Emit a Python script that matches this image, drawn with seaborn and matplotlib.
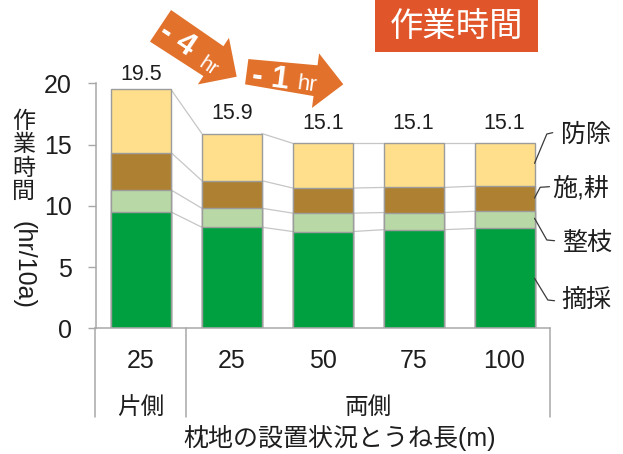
import numpy as np
import pandas as pd
import matplotlib
matplotlib.use("Agg")
import matplotlib.pyplot as plt
from matplotlib.patches import Polygon, Rectangle
import seaborn as sns

# 枕地の設置状況とうね長ごとの作業時間 (hr/10a)
sides = ["片側", "両側", "両側", "両側", "両側"]
row_lengths = ["25", "25", "50", "75", "100"]
tasks = ["摘採", "整枝", "施,耕", "防除"]
plucking = [9.5, 8.25, 7.9, 8.05, 8.15]
pruning = [1.8, 1.55, 1.5, 1.4, 1.4]
fert_tillage = [3.05, 2.25, 2.05, 2.05, 2.05]
pest_control = [5.15, 3.85, 3.65, 3.6, 3.5]
task_colors = ["#00A041", "#B8D8A6", "#AD8131", "#FFDF8B"]
y_ticks = [0, 5, 10, 15, 20]
arrow_texts = [("- 4", "hr"), ("- 1", "hr")]
title = "作業時間"
y_label = "作業時間"
y_unit = "(hr/10a)"
x_label = "枕地の設置状況とうね長(m)"

W, H = 623, 454
TEXT = "#1E1E1E"
GRID_GRAY = "#A8A8A8"

sns.set_theme(style="white")
plt.rcParams["font.family"] = ["Liberation Sans", "Noto Sans CJK JP", "DejaVu Sans"]

keys = [f"{s}{l}" for s, l in zip(sides, row_lengths)]
layers = np.array([plucking, pruning, fert_tillage, pest_control])
stack = np.cumsum(layers, axis=0)
totals = stack[-1]
df = pd.DataFrame({"key": keys})
for k in range(len(tasks)):
    df[f"c{k}"] = stack[k]

fig = plt.figure(figsize=(W / 100, H / 100), dpi=100)
fig.patch.set_facecolor("white")

ax_left, ax_right, ax_top, ax_bottom = 95.5, 550, 83.3, 328.3
ax = fig.add_axes([ax_left / W, 1 - ax_bottom / H,
                   (ax_right - ax_left) / W, (ax_bottom - ax_top) / H])

bar_w = 0.66
# stacked bars: draw the cumulative heights from the top layer down
for k in reversed(range(len(tasks))):
    sns.barplot(data=df, x="key", y=f"c{k}", color=task_colors[k], saturation=1,
                width=bar_w, edgecolor="#9C9C9C", linewidth=1.0,
                errorbar=None, ax=ax, zorder=2)

# connector lines between neighbouring bars
hw = bar_w / 2
for k in range(len(tasks)):
    for i in range(len(keys) - 1):
        ax.plot([i + hw, i + 1 - hw], [stack[k, i], stack[k, i + 1]],
                color="#C6C6C6", lw=0.9, zorder=1)

# totals above bars
for i, t in enumerate(totals):
    ax.text(i, min(t + 1.65, 20.7), f"{t:.1f}", ha="center", va="center",
            fontsize=15.5, color=TEXT, clip_on=False)

ax.set_xlim(-0.5, len(keys) - 0.5)
ax.set_ylim(0, 20)
ax.set_yticks(y_ticks)
ax.set_yticklabels([str(v) for v in y_ticks])
ax.set_xticks(range(len(keys)))
ax.set_xticklabels(row_lengths)
ax.set_xlabel("")
ax.set_ylabel("")
ax.tick_params(axis="y", direction="out", length=6, width=1, color=GRID_GRAY,
               labelsize=18, labelcolor=TEXT, pad=11, left=True)
ax.tick_params(axis="x", length=0, labelsize=18, labelcolor=TEXT, pad=15)
for s in ["top", "right"]:
    ax.spines[s].set_visible(False)
for s in ["left", "bottom"]:
    ax.spines[s].set_color(GRID_GRAY)
    ax.spines[s].set_linewidth(1.1)

# group separators below the axis
xt = ax.get_xaxis_transform()
y_low = (ax_bottom - 417) / (ax_bottom - ax_top)
for xv in [-0.5, 0.5, len(keys) - 0.5]:
    ax.plot([xv, xv], [0, y_low], transform=xt, color=GRID_GRAY, lw=1.1,
            clip_on=False)

def ax_frac(py):
    return (ax_bottom - py) / (ax_bottom - ax_top)

ax.text(0, ax_frac(408), sides[0], transform=xt, ha="center", va="center",
        fontsize=17, color=TEXT)
ax.text((1 + len(keys) - 1) / 2, ax_frac(408), sides[1], transform=xt,
        ha="center", va="center", fontsize=17, color=TEXT)
ax.text(2.187, ax_frac(438), x_label, transform=xt, ha="center", va="center",
        fontsize=18, color=TEXT)

# task labels with leader lines
leader = [
    ([4 + hw, 4.465, 4.53], [13.47, 15.86, 15.97], 4.623, 15.78),
    ([4 + hw, 4.392, 4.494], [10.64, 11.51, 11.56], 4.527, 11.43),
    ([4 + hw, 4.465, 4.55], [8.98, 7.21, 7.15], 4.637, 6.94),
    ([4 + hw, 4.476, 4.55], [4.08, 2.31, 2.25], 4.623, 2.31),
]
for name, (lx, ly, tx, ty) in zip(reversed(tasks), leader):
    ax.plot(lx, ly, color="#3A3A3A", lw=0.9, clip_on=False, zorder=3)
    ax.text(tx, ty, name, ha="left", va="center", fontsize=18, color=TEXT,
            clip_on=False)

def fxy(px, py):
    return px / W, 1 - py / H

# vertical y-axis label
for j, ch in enumerate(y_label):
    fig.text(*fxy(23.5, 121 + j * 23.6), ch, ha="center", va="center",
             fontsize=16.5, color=TEXT)
fig.text(*fxy(23.5, 265), y_unit, ha="center", va="center", rotation=270,
         fontsize=18, color=TEXT)

# title box
fig.add_artist(Rectangle(fxy(375, 52), 163 / W, 52 / H, transform=fig.transFigure,
                         facecolor="#E0552A", edgecolor="none"))
fig.text(*fxy(456.5, 27), title, ha="center", va="center", fontsize=24,
         color="white")

def arrow_poly(tail, tip, wt, wn, wh, hl):
    T = np.array(tail, float)
    P = np.array(tip, float)
    L = np.linalg.norm(P - T)
    u = (P - T) / L
    n = np.array([-u[1], u[0]])
    B = T + u * (L - hl)
    pts = [T + n * wt / 2, B + n * wn / 2, B + n * wh / 2, P,
           B - n * wh / 2, B - n * wn / 2, T - n * wt / 2]
    return [fxy(*p) for p in pts]

ARROW = "#E2712B"
fig.add_artist(Polygon(arrow_poly((160.5, 25.8), (236.7, 76.7), 38, 36, 56, 28),
                       closed=True, transform=fig.transFigure,
                       facecolor=ARROW, edgecolor="none"))
fig.add_artist(Polygon(arrow_poly((246.7, 71.7), (343.3, 84.3), 25.5, 31, 55, 28),
                       closed=True, transform=fig.transFigure,
                       facecolor=ARROW, edgecolor="none"))

fig.text(*fxy(177, 40), arrow_texts[0][0], ha="center", va="center",
         rotation=-33.7, rotation_mode="anchor", fontsize=23,
         fontweight="bold", color="white")
fig.text(*fxy(208, 67), arrow_texts[0][1], ha="center", va="center",
         rotation=-33.7, rotation_mode="anchor", fontsize=15, color="white")
fig.text(*fxy(271, 78), arrow_texts[1][0], ha="center", va="center",
         rotation=-7.4, rotation_mode="anchor", fontsize=23,
         fontweight="bold", color="white")
fig.text(*fxy(307, 85), arrow_texts[1][1], ha="center", va="center",
         rotation=-7.4, rotation_mode="anchor", fontsize=16, color="white")

fig.savefig("out.png", dpi=100, facecolor="white")
